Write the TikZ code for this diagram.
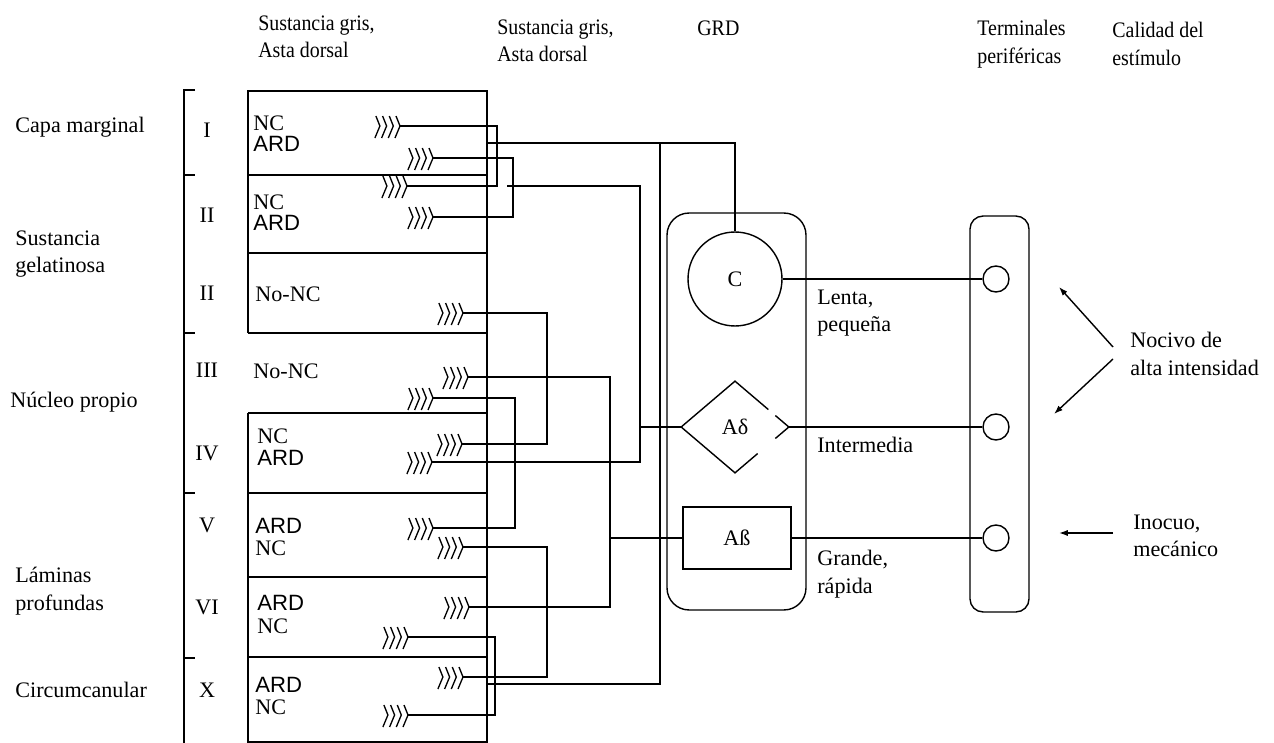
\documentclass[tikz,border=0pt]{standalone}
\usepackage{fontspec}
\setmainfont{Liberation Serif}
\newfontfamily\ardfont{Liberation Sans}
\newfontfamily\headfont{Liberation Serif}[FakeStretch=0.9]
\usetikzlibrary{arrows.meta,calc,shapes.geometric}

\tikzset{
  % Plain labels
  txt/.style={anchor=west, align=left, inner sep=0pt,
    font=\fontsize{12.6}{15.6}\selectfont},
  head/.style={txt, font=\headfont\fontsize{12.6}{15.6}\selectfont},
  roman/.style={inner sep=0pt, font=\fontsize{12.6}{15.6}\selectfont},
  ard/.style={txt, font=\ardfont\fontsize{12.6}{15.6}\selectfont},
  % Wires and outlines
  wire/.style={draw=black, line width=0.8pt},
  % GRD cell bodies
  cellc/.style={circle, draw, line width=0.8pt, minimum size=1.88cm,
    inner sep=0pt, font=\fontsize{12.6}{15.6}\selectfont},
  cellb/.style={rectangle, draw, line width=0.8pt, minimum width=2.16cm,
    minimum height=1.24cm, inner sep=0pt, font=\fontsize{12.6}{15.6}\selectfont},
  % Peripheral endings
  endcirc/.style={circle, draw, line width=0.8pt, minimum size=0.52cm, inner sep=0pt},
  % Stimulus arrows
  arr/.style={-{Latex[length=5pt,width=3.5pt]}, line width=0.8pt},
  % Synaptic terminal (four chevrons ending at the origin)
  term/.pic={
    \foreach \k in {0,1,2,3}
      \draw[line width=0.75pt] (-6.7*\k-4,-10) -- (-6.7*\k,0) -- (-6.7*\k-5,12);
  }
}

\begin{document}
\begin{tikzpicture}[x=0.02cm, y=-0.02cm]
  \useasboundingbox (0,0) rectangle (1274,743);

  %% Column headings
  \node[head] (h1) at (258,37)  {Sustancia gris,\\Asta dorsal};
  \node[head] (h2) at (497,41)  {Sustancia gris,\\Asta dorsal};
  \node[head] (h3) at (697,28)  {GRD};
  \node[head] (h4) at (977,44)  {Terminales\\periféricas};
  \node[head] (h5) at (1112,44) {Calidad del\\estímulo};

  %% Regions
  \node[txt] (r1) at (15,127)  {Capa marginal};
  \node[txt] (r2) at (15,254)  {Sustancia\\gelatinosa};
  \node[txt] (r3) at (10,402)  {Núcleo propio};
  \node[txt] (r4) at (15,591)  {Láminas\\profundas};
  \node[txt] (r5) at (15,690)  {Circumcanular};

  %% Bracket
  \draw[wire] (195,90) -- (184,90) -- (184,743);
  \foreach \yy in {175,333,493,658}
    \draw[wire] (184,\yy) -- (195,\yy);

  %% Laminae numbers
  \node[roman] (l1) at (207,130) {I};
  \node[roman] (l2) at (207,215) {II};
  \node[roman] (l3) at (207,293) {II};
  \node[roman] (l4) at (207,370) {III};
  \node[roman] (l5) at (207,453) {IV};
  \node[roman] (l6) at (207,525) {V};
  \node[roman] (l7) at (207,607) {VI};
  \node[roman] (l8) at (207,690) {X};

  %% Dorsal horn box
  \draw[wire] (248,333) -- (248,91) -- (487,91) -- (487,742) -- (248,742) -- (248,413);
  \foreach \yy in {175,253,333,413,493,577,657}
    \draw[wire] (248,\yy) -- (487,\yy);

  %% Cell labels
  \node[txt] (nc1)  at (253,123) {NC};
  \node[ard] (ard1) at (253,144) {ARD};
  \node[txt] (nc2)  at (253,202) {NC};
  \node[ard] (ard2) at (253,223) {ARD};
  \node[txt] (nn1)  at (255,294) {No-NC};
  \node[txt] (nn2)  at (253,371) {No-NC};
  \node[txt] (nc4)  at (257,436) {NC};
  \node[ard] (ard4) at (257,458) {ARD};
  \node[ard] (ard5) at (255,526) {ARD};
  \node[txt] (nc5)  at (255,548) {NC};
  \node[ard] (ard6) at (257,603) {ARD};
  \node[txt] (nc6)  at (257,626) {NC};
  \node[ard] (ard7) at (255,685) {ARD};
  \node[txt] (nc7)  at (255,707) {NC};

  %% Terminals
  \coordinate (t1)  at (400,126);
  \coordinate (t2)  at (433,158);
  \coordinate (t3)  at (407,186);
  \coordinate (t4)  at (433,217);
  \coordinate (t5)  at (463,313);
  \coordinate (t6)  at (468,377);
  \coordinate (t7)  at (433,398);
  \coordinate (t8)  at (462,444);
  \coordinate (t9)  at (432,462);
  \coordinate (t10) at (433,528);
  \coordinate (t11) at (463,547);
  \coordinate (t12) at (469,607);
  \coordinate (t13) at (408,637);
  \coordinate (t14) at (463,677);
  \coordinate (t15) at (408,715);
  \foreach \t in {t1,t2,t3,t4,t5,t6,t7,t8,t9,t10,t11,t12,t13,t14,t15}
    \pic at (\t) {term};

  %% GRD
  \node[draw, line width=0.8pt, rounded corners=0.44cm, minimum width=2.78cm,
    minimum height=7.94cm] (grd) at (736.5,411.5) {};
  \node[cellc] (c) at (735,279) {C};
  \node[diamond, minimum width=2.14cm, minimum height=1.82cm, inner sep=0pt,
    font=\fontsize{12.6}{15.6}\selectfont] (ad) at (735,427) {Aδ};
  \draw[wire] ($(ad.north)!0.62!(ad.east)$) -- (ad.north) -- (ad.west)
    -- (ad.south) -- ($(ad.south)!0.42!(ad.east)$);
  \draw[wire] ($(ad.north)!0.75!(ad.east)$) -- (ad.east) -- ($(ad.east)!0.25!(ad.south)$);
  \node[cellb] (ab) at (737,538) {Aß};

  %% Fibre labels
  \node[txt] (f1) at (817,313) {Lenta,\\pequeña};
  \node[txt] (f2) at (817,445) {Intermedia};
  \node[txt] (f3) at (817,574) {Grande,\\rápida};

  %% Peripheral terminals
  \node[draw, line width=0.8pt, rounded corners=0.26cm, minimum width=1.18cm,
    minimum height=7.92cm] (per) at (999.5,414) {};
  \node[endcirc] (p1) at (996,279) {};
  \node[endcirc] (p2) at (996,427) {};
  \node[endcirc] (p3) at (996,538) {};

  %% Connections inside the horn
  \draw[wire] (t1) -- ++(97,0) |- (t3);
  \draw[wire] (t2) -- ++(80,0) |- (t4);
  \draw[wire] (t5) -- ++(84,0) |- (t8);
  \draw[wire] (t7) -- ++(82,0) |- (t10);
  \draw[wire] (t11) -- ++(84,0) |- (t14);
  \draw[wire] (t13) -- ++(87,0) |- (t15);

  %% Connections to the GRD
  \coordinate (e0) at (487,143);
  \coordinate (e1) at (507,186);
  \coordinate (e2) at (488,684);
  \draw[wire] (e0) -| (c.north);
  \draw[wire] (e2) -- ++(172,0) -- ++(0,-541);
  \draw[wire] (t9) -- ++(208,0) |- (e1);
  \draw[wire] (ad.west) -- ++(-41,0);
  \draw[wire] (t6) -- ++(142,0) |- (t12);
  \draw[wire] (ab.west) -- ++(-73,0);

  %% Fibres to the periphery
  \draw[wire] (c.east) -- (p1.west);
  \draw[wire] (ad.east) -- (p2.west);
  \draw[wire] (ab.east) -- (p3.west);

  %% Stimulus quality
  \node[txt] (s1) at (1130,354) {Nocivo de\\alta intensidad};
  \node[txt] (s2) at (1133,536) {Inocuo,\\mecánico};
  \coordinate (a1) at (1113,347);
  \coordinate (a2) at (1113,359);
  \coordinate (a3) at (1113,533);
  \draw[arr] (a1) -- (1059,287);
  \draw[arr] (a2) -- (1054,414);
  \draw[arr] (a3) -- (1059,533);

\end{tikzpicture}
\end{document}
